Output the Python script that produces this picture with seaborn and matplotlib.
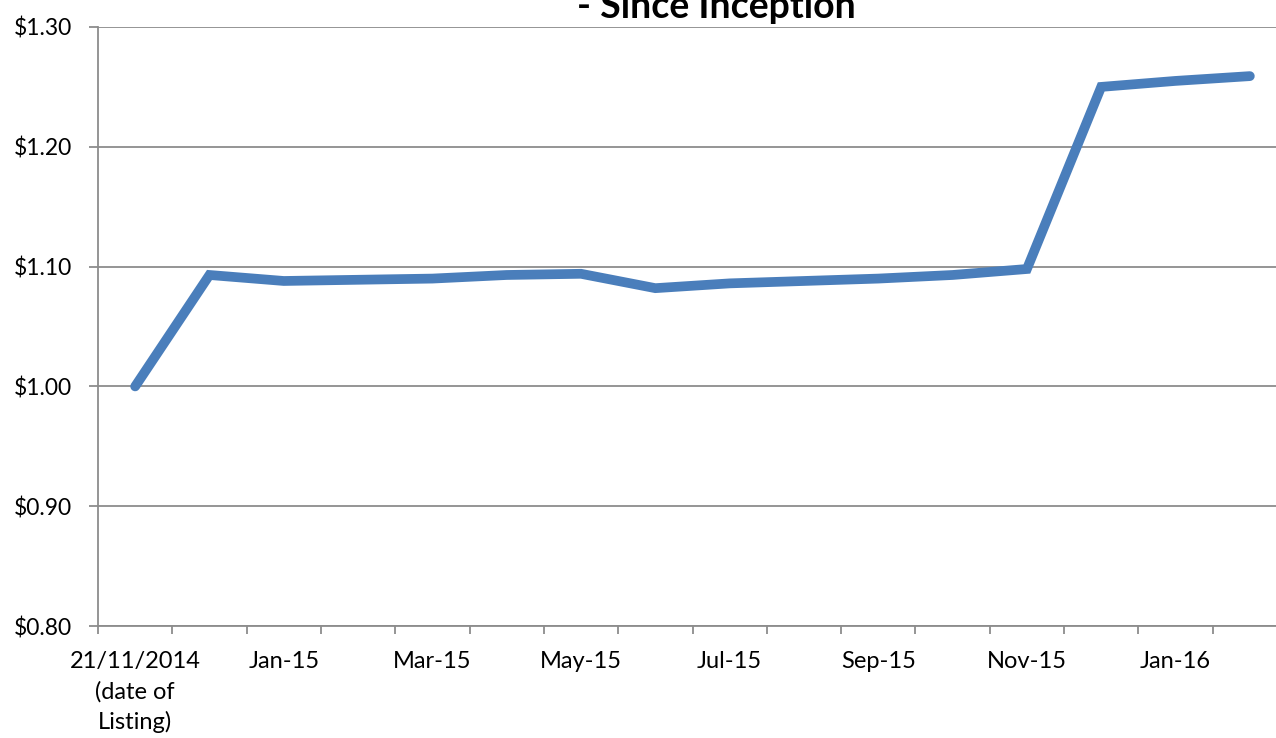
import matplotlib
matplotlib.use("Agg")
import matplotlib.pyplot as plt
import seaborn as sns
import pandas as pd
import numpy as np
from matplotlib.ticker import FixedLocator, FuncFormatter

categories = ["21/11/2014\n(date of\nListing)", "Dec-14", "Jan-15", "Feb-15", "Mar-15", "Apr-15",
              "May-15", "Jun-15", "Jul-15", "Aug-15", "Sep-15", "Oct-15", "Nov-15",
              "Dec-15", "Jan-16", "Feb-16"]
nav_values = [1.000, 1.093, 1.088, 1.089, 1.090, 1.093, 1.094, 1.082, 1.086, 1.088,
              1.090, 1.093, 1.098, 1.250, 1.255, 1.259]
y_ticks = [0.80, 0.90, 1.00, 1.10, 1.20, 1.30]
title_text = "- Since Inception"

sns.set_theme(style="white")
plt.rcParams['font.family'] = ['Lato', 'DejaVu Sans']

df = pd.DataFrame({"idx": np.arange(len(categories)), "nav": nav_values})

fig = plt.figure(figsize=(12.76, 7.38), dpi=100)
ax = fig.add_axes([98/1276, 112/738, (1287-98)/1276, (626-27)/738])

sns.lineplot(data=df, x="idx", y="nav", ax=ax, color="#4a7ebb", linewidth=7,
             solid_capstyle="round", solid_joinstyle="miter")

ax.set_xlim(-0.5, len(categories) - 0.5)
ax.set_ylim(0.80, 1.30)
ax.set_xlabel("")
ax.set_ylabel("")

ax.set_yticks(y_ticks)
ax.yaxis.set_major_formatter(FuncFormatter(lambda v, p: f"${v:.2f}"))
ax.grid(axis="y", color="#8c8c8c", linewidth=1.3)
ax.set_axisbelow(True)

label_pos = list(range(0, len(categories), 2))
ax.set_xticks(label_pos)
ax.set_xticklabels([categories[i] for i in label_pos], linespacing=1.5)
ax.xaxis.set_minor_locator(FixedLocator(np.arange(-0.5, len(categories), 1.0)))
ax.tick_params(axis="x", which="major", length=0, pad=18, labelsize=17, colors="black")
ax.tick_params(axis="x", which="minor", length=5.5, width=1.3, color="#8c8c8c", direction="out", bottom=True)
ax.tick_params(axis="y", which="major", length=6.5, width=1.3, color="#8c8c8c", direction="out",
               left=True, labelsize=16.5, pad=12, labelcolor="black")

for s in ["top", "right"]:
    ax.spines[s].set_visible(False)
for s in ["left", "bottom"]:
    ax.spines[s].set_color("#8c8c8c")
    ax.spines[s].set_linewidth(1.3)

fig.text(716.5/1276, 1 - 18/738, title_text, ha="center", va="baseline",
         fontsize=27, fontweight="bold", color="black")

fig.savefig("out.png", dpi=100)
